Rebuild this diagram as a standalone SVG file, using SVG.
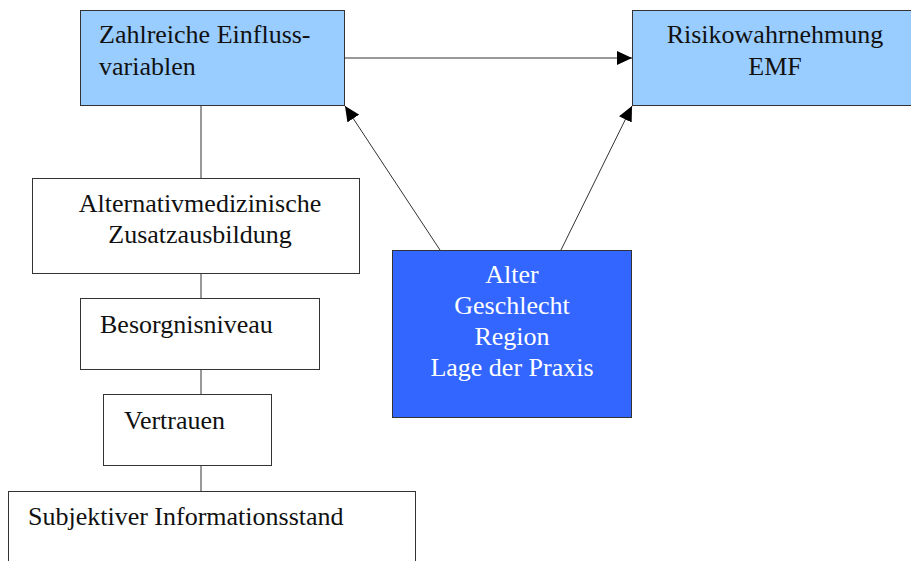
<svg xmlns="http://www.w3.org/2000/svg" width="911" height="561" viewBox="0 0 911 561">
<style>
.box{stroke:#333;stroke-width:1}
.lb{fill:#99CCFF}
.wh{fill:#ffffff}
.db{fill:#3366FF}
text{font-family:"Liberation Serif","Times New Roman",serif;font-size:26px;fill:#111}
.c{text-anchor:middle}
.w{fill:#ffffff}
.con{stroke:#333;stroke-width:1;fill:none}
</style>
<defs>
<marker id="ah" markerUnits="userSpaceOnUse" markerWidth="16" markerHeight="14" refX="15" refY="7" orient="auto">
<path d="M0,0 L15,7 L0,14 Z" fill="#000"/>
</marker>
</defs>
<rect width="911" height="561" fill="#ffffff"/>
<g id="connectors">
<line class="con" x1="201" y1="106" x2="201" y2="491"/>
<line class="con" x1="345" y1="58" x2="632" y2="58" marker-end="url(#ah)"/>
<line class="con" x1="440" y1="250" x2="345" y2="106" marker-end="url(#ah)"/>
<line class="con" x1="561" y1="250" x2="632" y2="106" marker-end="url(#ah)"/>
</g>
<g id="n-einfluss">
<rect class="box lb" x="80.5" y="10.5" width="264" height="95"/>
<text x="99" y="43">Zahlreiche Einfluss-</text>
<text x="99" y="75">variablen</text>
</g>
<g id="n-risiko">
<rect class="box lb" x="632.5" y="10.5" width="290" height="95"/>
<text class="c" x="775" y="43">Risikowahrnehmung</text>
<text class="c" x="775" y="75">EMF</text>
</g>
<g id="n-demo">
<rect class="box db" x="392.5" y="250.5" width="239" height="167"/>
<text class="c w" x="512" y="283">Alter</text>
<text class="c w" x="512" y="314">Geschlecht</text>
<text class="c w" x="512" y="345">Region</text>
<text class="c w" x="512" y="376">Lage der Praxis</text>
</g>
<g id="n-alternativ">
<rect class="box wh" x="32.5" y="178.5" width="327" height="95"/>
<text class="c" x="200" y="212">Alternativmedizinische</text>
<text class="c" x="200" y="243">Zusatzausbildung</text>
</g>
<g id="n-besorgnis">
<rect class="box wh" x="80.5" y="298.5" width="239" height="71"/>
<text x="100" y="333">Besorgnisniveau</text>
</g>
<g id="n-vertrauen">
<rect class="box wh" x="103.5" y="394.5" width="168" height="71"/>
<text x="124" y="429">Vertrauen</text>
</g>
<g id="n-subjektiv">
<rect class="box wh" x="8.5" y="491.5" width="407" height="90"/>
<text x="28" y="525">Subjektiver Informationsstand</text>
</g>
</svg>
